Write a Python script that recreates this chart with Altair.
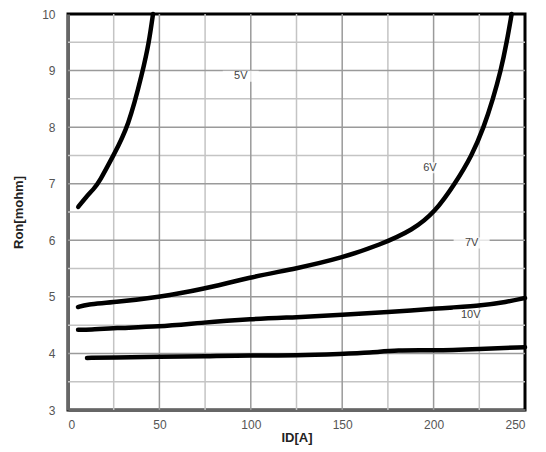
import altair as alt
import pandas as pd

# Curves (ID [A], Ron [mohm])
id_5v = [5.6, 10, 13.9, 17.1, 24.8, 33, 41, 44.3, 46.5]
ron_5v = [6.59, 6.77, 6.9, 7.03, 7.5, 8.0, 9.0, 9.5, 10.0]

id_6v = [5.5, 10, 25, 50, 72, 100, 125, 150, 170.7, 188.7, 200.8, 211.7, 221, 227.5, 232.5, 236.8, 240, 242.7]
ron_6v = [4.82, 4.87, 4.9, 5.0, 5.12, 5.35, 5.5, 5.69, 5.92, 6.18, 6.5, 7.0, 7.5, 8.0, 8.5, 9.0, 9.5, 10.0]

id_7v = [5.5, 12, 25, 50, 72, 100, 125, 150, 175, 200, 225, 240, 250]
ron_7v = [4.42, 4.42, 4.45, 4.47, 4.54, 4.61, 4.64, 4.68, 4.73, 4.79, 4.84, 4.91, 4.98]

id_10v = [10.4, 25, 50, 75, 100, 125, 150, 165, 180, 200, 225, 250]
ron_10v = [3.92, 3.93, 3.94, 3.95, 3.97, 3.96, 3.99, 4.01, 4.06, 4.05, 4.08, 4.11]

# Curve labels
label_text = ["5V", "6V", "7V", "10V"]
label_x = [94.5, 198, 220.8, 220.3]
label_y = [8.9, 7.28, 5.95, 4.68]

# Grid values
x_minor = [25, 75, 125, 175, 225]
x_major = [50, 100, 150, 200]
y_minor = [3.5, 4.5, 5.5, 6.5, 7.5, 8.5, 9.5]
y_major = [4, 5, 6, 7, 8, 9]
x_ticks = [0, 50, 100, 150, 200, 250]
y_ticks = [3, 4, 5, 6, 7, 8, 9, 10]

rows = []
for name, xs, ys in [("5V", id_5v, ron_5v), ("6V", id_6v, ron_6v),
                     ("7V", id_7v, ron_7v), ("10V", id_10v, ron_10v)]:
    for i, (a, b) in enumerate(zip(xs, ys)):
        rows.append({"series": name, "id": a, "ron": b, "order": i})
df = pd.DataFrame(rows)
labels = pd.DataFrame({"text": label_text, "x": label_x, "y": label_y})

xs = alt.Scale(domain=[0, 250], nice=False, zero=False)
ys = alt.Scale(domain=[3, 10], nice=False, zero=False)

xaxis = alt.Axis(values=x_ticks, grid=False, ticks=False, labelFontSize=12,
                 labelColor="#555", labelPadding=9, domainColor="#666", domainWidth=3,
                 title="ID[A]", titleFontSize=13, titleFontWeight="bold",
                 titleColor="#222", titlePadding=1, labelFont="Liberation Sans",
                 titleFont="Liberation Sans")
yaxis = alt.Axis(values=y_ticks, grid=False, ticks=False, labelFontSize=12,
                 labelColor="#555", labelPadding=13, domainColor="#666", domainWidth=3,
                 title="Ron[mohm]", titleFontSize=13, titleFontWeight="bold",
                 titleColor="#222", titlePadding=16, labelFont="Liberation Sans",
                 titleFont="Liberation Sans")

def vgrid(vals, color):
    return alt.Chart(pd.DataFrame({"v": vals})).mark_rule(color=color, strokeWidth=1.5).encode(
        x=alt.X("v:Q", scale=xs, axis=xaxis))

def hgrid(vals, color):
    return alt.Chart(pd.DataFrame({"v": vals})).mark_rule(color=color, strokeWidth=1.5).encode(
        y=alt.Y("v:Q", scale=ys, axis=yaxis))

curves = alt.Chart(df).mark_line(color="black", strokeWidth=4.5, interpolate="basis",
                                 strokeCap="round").encode(
    x=alt.X("id:Q", scale=xs, axis=xaxis),
    y=alt.Y("ron:Q", scale=ys, axis=yaxis),
    detail="series:N",
    order="order:Q",
)

boxes = alt.Chart(labels).mark_rect(width=36, height=11, color="white", opacity=0.75).encode(
    x=alt.X("x:Q", scale=xs, axis=xaxis),
    y=alt.Y("y:Q", scale=ys, axis=yaxis),
)

texts = alt.Chart(labels).mark_text(fontSize=11, color="#444", font="Liberation Sans").encode(
    x=alt.X("x:Q", scale=xs, axis=xaxis),
    y=alt.Y("y:Q", scale=ys, axis=yaxis),
    text="text:N",
)

chart = alt.layer(
    vgrid(x_minor, "#c4c4c4"), hgrid(y_minor, "#c4c4c4"),
    vgrid(x_major, "#9a9a9a"), hgrid(y_major, "#9a9a9a"),
    curves, boxes, texts,
).properties(
    width=457, height=396,
    autosize=alt.AutoSizeParams(type="none"),
    padding={"left": 68, "top": 14, "right": 21, "bottom": 42},
    background="white",
).configure_view(stroke="black", strokeWidth=3)

chart.save("out.html", embed_options={"renderer": "svg", "actions": False})
